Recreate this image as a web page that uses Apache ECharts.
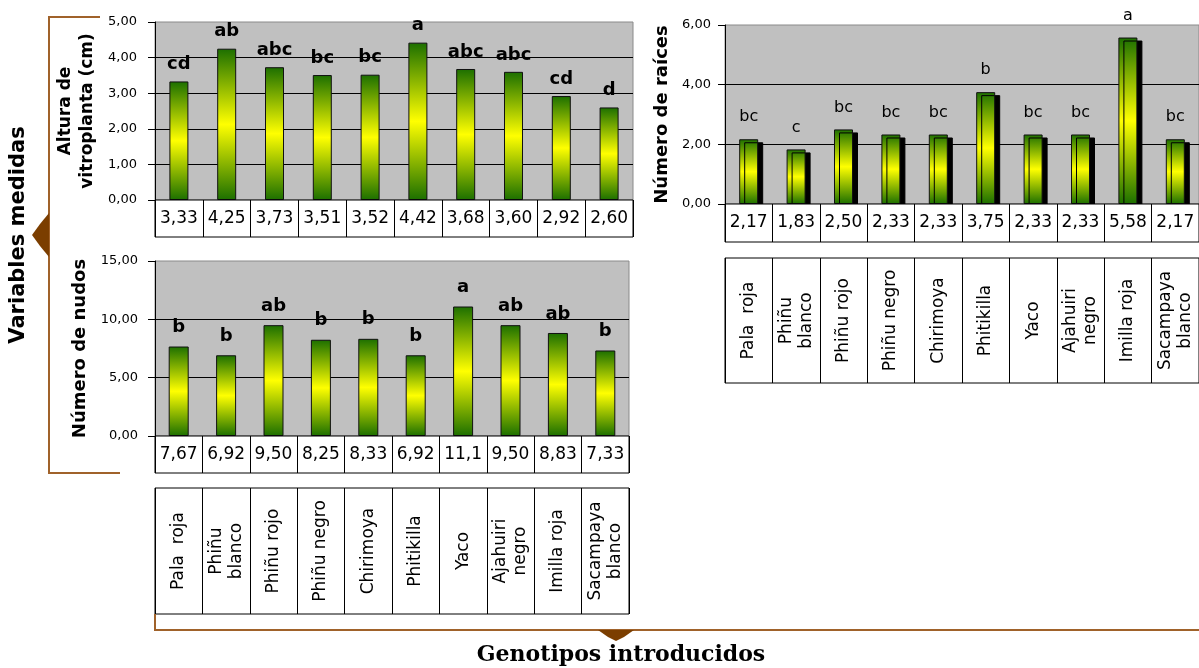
<!DOCTYPE html>
<html><head><meta charset="utf-8">
<script src="https://cdn.jsdelivr.net/npm/echarts@6/dist/echarts.min.js"></script>
<style>html,body{margin:0;padding:0;background:#fff}#c{width:1199px;height:668px}</style>
</head><body><div id="c"></div>
<script>
// ---------- data ----------
const categories = ['Pala  roja','Phiñu\nblanco','Phiñu rojo','Phiñu negro','Chirimoya','Phitikilla','Yaco','Ajahuiri\nnegro','Imilla roja','Sacampaya\nblanco'];

const alturaValues  = [3.33, 4.25, 3.73, 3.51, 3.52, 4.42, 3.68, 3.60, 2.92, 2.60];
const alturaLetters = ['cd','ab','abc','bc','bc','a','abc','abc','cd','d'];
const alturaAxis    = [0, 5, 1];   // min, max, interval

const raicesValues  = [2.17, 1.83, 2.50, 2.33, 2.33, 3.75, 2.33, 2.33, 5.58, 2.17];
const raicesLetters = ['bc','c','bc','bc','bc','b','bc','bc','a','bc'];
const raicesAxis    = [0, 6, 2];

const nudosValues   = [7.67, 6.92, 9.50, 8.25, 8.33, 6.92, 11.1, 9.50, 8.83, 7.33];
const nudosLetters  = ['b','b','ab','b','b','b','a','ab','ab','b'];
const nudosAxis     = [0, 15, 5];

const alturaName = 'Altura de\nvitroplanta (cm)';
const raicesName = 'Número de raíces';
const nudosName  = 'Número de nudos';
const leftTitle  = 'Variables medidas';
const bottomTitle = 'Genotipos introducidos';

// ---------- helpers ----------
const FONT = 'DejaVu Sans';
const tickFmt = v => v.toFixed(2).replace('.', ',');
const cellFmt = v => (v >= 10 ? v.toFixed(1) : v.toFixed(2)).replace('.', ',');

const barGradient = {
  type: 'linear', x: 0, y: 0, x2: 0, y2: 1,
  colorStops: [
    {offset: 0, color: '#1C6F00'},
    {offset: 0.5, color: '#FFFF00'},
    {offset: 1, color: '#1C6F00'}
  ]
};

const grids = [];
const xAxes = [];
const yAxes = [];
const series = [];

function addPlot(box, axisCfg, name, nameGap, labelMargin, values, letters, opts) {
  const gi = grids.length;
  grids.push({left: box[0], top: box[1], width: box[2], height: box[3],
    show: true, backgroundColor: '#C0C0C0', borderColor: '#8a8a8a', borderWidth: 1});
  xAxes.push({gridIndex: gi, type: 'category', data: categories,
    axisLine: {show: false}, axisTick: {show: false}, axisLabel: {show: false}, splitLine: {show: false}});
  yAxes.push({gridIndex: gi, type: 'value', min: axisCfg[0], max: axisCfg[1], interval: axisCfg[2],
    name: name, nameLocation: 'middle', nameRotate: 90, nameGap: nameGap,
    nameTextStyle: {fontFamily: FONT, fontWeight: 'bold', fontSize: opts.nameSize, color: '#000', lineHeight: opts.nameLH || 22},
    axisLine: {show: true, lineStyle: {color: '#000', width: 1}},
    axisTick: {show: true, length: 7, lineStyle: {color: '#000'}},
    axisLabel: {formatter: tickFmt, fontFamily: FONT, fontSize: 13, color: '#000', margin: labelMargin},
    splitLine: {show: true, showMinLine: false, showMaxLine: false, lineStyle: {color: '#000', width: 1}}});
  const itemStyle = {color: barGradient, borderColor: '#111', borderWidth: 1};
  if (opts.shadow) {
    Object.assign(itemStyle, {shadowColor: '#000', shadowOffsetX: 5, shadowOffsetY: 3, shadowBlur: 0});
  }
  series.push({type: 'bar', xAxisIndex: gi, yAxisIndex: gi, data: values, barWidth: opts.barWidth,
    itemStyle: itemStyle, silent: true,
    label: {show: true, position: 'top', distance: opts.labelDist,
      formatter: p => letters[p.dataIndex],
      fontFamily: FONT, fontWeight: opts.letterWeight, fontSize: opts.letterSize, color: '#000'}});
}

function addValueRow(box, values) {
  const gi = grids.length;
  grids.push({left: box[0], top: box[1], width: box[2], height: box[3], z: 3,
    show: true, backgroundColor: '#fff', borderColor: '#000', borderWidth: 1});
  xAxes.push({gridIndex: gi, type: 'category', data: values.map(cellFmt), position: 'bottom', z: 4,
    axisLine: {show: false}, axisTick: {show: false},
    axisLabel: {interval: 0, inside: true, margin: box[3] / 2, verticalAlign: 'middle',
      fontFamily: FONT, fontSize: 17, color: '#000'},
    splitLine: {show: true, interval: 0, lineStyle: {color: '#000', width: 1}}});
  yAxes.push({gridIndex: gi, type: 'value', min: 0, max: 1, show: false});
}

function addCategoryTable(box) {
  const gi = grids.length;
  grids.push({left: box[0], top: box[1], width: box[2], height: box[3],
    show: true, backgroundColor: '#fff', borderColor: '#000', borderWidth: 1});
  xAxes.push({gridIndex: gi, type: 'category', data: categories, position: 'bottom',
    axisLine: {show: false}, axisTick: {show: false},
    axisLabel: {interval: 0, inside: true, rotate: 90, margin: box[3] / 2,
      align: 'center', verticalAlign: 'middle',
      fontFamily: FONT, fontSize: 17, lineHeight: 20, color: '#000'},
    splitLine: {show: true, interval: 0, lineStyle: {color: '#000', width: 1}}});
  yAxes.push({gridIndex: gi, type: 'value', min: 0, max: 1, show: false});
}

// ---------- layout ----------
// Chart 1: Altura de vitroplanta
addPlot([155, 22, 478, 178], alturaAxis, alturaName, 56, 18, alturaValues, alturaLetters,
  {barWidth: 19, labelDist: 8, letterWeight: 'bold', letterSize: 18, nameSize: 17, nameLH: 22});
addValueRow([155, 200, 478, 37], alturaValues);

// Chart 2: Número de raíces
addPlot([725, 25, 478, 179], raicesAxis, raicesName, 52, 14, raicesValues, raicesLetters,
  {barWidth: 19, labelDist: 14, letterWeight: 'normal', letterSize: 16, shadow: true, nameSize: 18});
addValueRow([725, 204, 478, 38], raicesValues);
addCategoryTable([725, 258, 478, 125]);

// Chart 3: Número de nudos
addPlot([155, 261, 474, 175], nudosAxis, nudosName, 64, 17, nudosValues, nudosLetters,
  {barWidth: 20, labelDist: 10, letterWeight: 'bold', letterSize: 18, nameSize: 18});
addValueRow([155, 436, 474, 37], nudosValues);
addCategoryTable([155, 488, 474, 126]);

// ---------- decorations (braces + titles) ----------
const BROWN = '#A0622A';
const DARK = '#7B3E00';
const graphic = [
  {type: 'polyline', shape: {points: [[100, 17], [49, 17], [49, 473], [120, 473]]},
    style: {stroke: BROWN, lineWidth: 2, fill: null}},
  {type: 'polygon', shape: {points: [[49, 213], [40, 224], [32, 235], [40, 246], [49, 257]]},
    style: {fill: DARK}},
  {type: 'polyline', shape: {points: [[155, 614], [155, 630], [1199, 630]]},
    style: {stroke: BROWN, lineWidth: 2, fill: null}},
  {type: 'polygon', shape: {points: [[598, 630], [608, 637], [616, 641], [624, 637], [634, 630]]},
    style: {fill: DARK}},
  {type: 'text', x: 19, y: 235, rotation: Math.PI / 2,
    style: {text: leftTitle, x: 0, y: 0, font: 'bold 21px "DejaVu Sans"', fill: '#000',
      textAlign: 'center', textVerticalAlign: 'middle', align: 'center', verticalAlign: 'middle'}},
  {type: 'text', x: 621, y: 655,
    style: {text: bottomTitle, x: 0, y: 0, font: 'bold 22px "DejaVu Serif"', fill: '#000',
      textAlign: 'center', textVerticalAlign: 'middle', align: 'center', verticalAlign: 'middle'}}
];

const chart = echarts.init(document.getElementById('c'), null, {renderer: 'canvas'});
chart.setOption({
  animation: false,
  backgroundColor: '#fff',
  grid: grids,
  xAxis: xAxes,
  yAxis: yAxes,
  series: series,
  graphic: graphic
});
</script>
</body></html>
